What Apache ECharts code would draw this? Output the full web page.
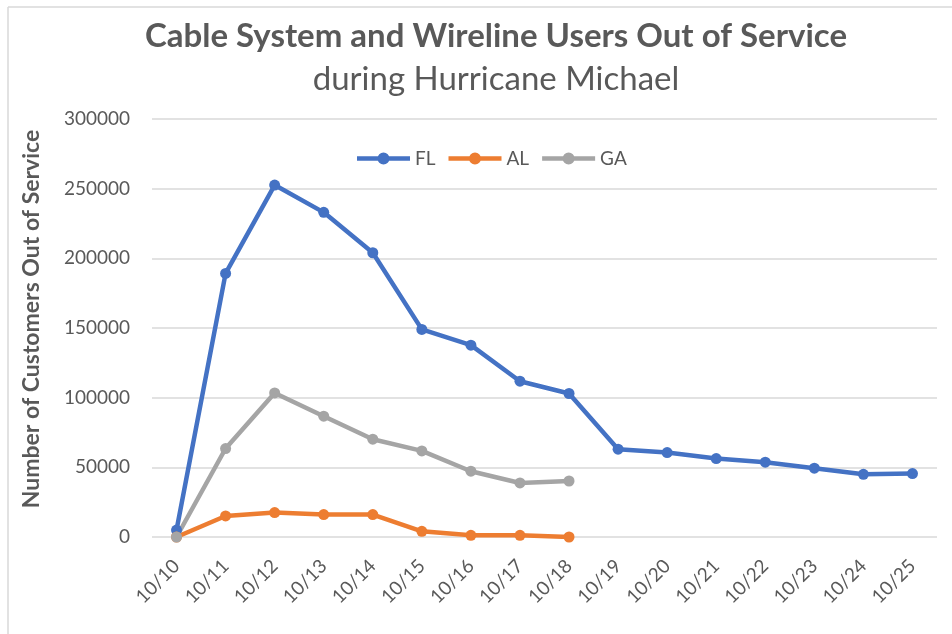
<!DOCTYPE html>
<html>
<head>
<meta charset="utf-8">
<title>Cable System and Wireline Users Out of Service</title>
<script src="https://cdn.jsdelivr.net/npm/echarts@6/dist/echarts.min.js"></script>
<style>
  html, body { margin: 0; padding: 0; background: #fff; }
  #chart { width: 952px; height: 634px; }
</style>
</head>
<body>
<div id="chart"></div>
<script>
  // dates along the x axis
  const dates = ['10/10', '10/11', '10/12', '10/13', '10/14', '10/15', '10/16', '10/17',
    '10/18', '10/19', '10/20', '10/21', '10/22', '10/23', '10/24', '10/25']

  // customers out of service
  const flValues = [5000, 189200, 252600, 233000, 204000, 149000, 137700, 111800,
    103000, 63000, 60600, 56300, 53700, 49400, 45000, 45500]
  const alValues = [0, 15100, 17500, 16100, 16100, 4100, 1200, 1200, 0]
  const gaValues = [0, 63500, 103400, 86700, 70200, 61800, 47200, 38800, 40200]

  const yTicks = [0, 50000, 100000, 150000, 200000, 250000, 300000]

  const font = 'Lato, "Open Sans", sans-serif'
  const textColor = '#595959'

  // legend marker: thick line with a dot in the middle
  const legendIcon = 'path://M0,3.8h53v4.4H0z M20.5,6a6,6 0 1,1 12,0a6,6 0 1,1 -12,0z'

  const chart = echarts.init(document.getElementById('chart'))

  const makeSeries = (name, data, color) => ({
    name,
    type: 'line',
    data,
    symbol: 'circle',
    symbolSize: 11,
    lineStyle: { width: 4.5, color },
    itemStyle: { color },
    emphasis: { disabled: true }
  })

  const option = {
    backgroundColor: '#fff',
    animation: false,
    title: [
      {
        text: 'Cable System and Wireline Users Out of Service',
        left: 491,
        top: 15,
        textAlign: 'center',
        textStyle: { fontFamily: font, fontSize: 33, fontWeight: 'bold', color: textColor }
      },
      {
        text: 'during Hurricane Michael',
        left: 491,
        top: 58,
        textAlign: 'center',
        textStyle: { fontFamily: font, fontSize: 33, fontWeight: 'normal', color: textColor }
      }
    ],
    legend: {
      top: 144,
      left: 352,
      itemWidth: 53,
      itemHeight: 12,
      itemGap: 13,
      icon: legendIcon,
      textStyle: { fontFamily: font, fontSize: 19, color: textColor },
      data: ['FL', 'AL', 'GA']
    },
    grid: {
      left: 152,
      right: 15,
      top: 119,
      bottom: 97
    },
    xAxis: {
      type: 'category',
      data: dates,
      boundaryGap: true,
      axisLine: { show: false },
      axisTick: { show: false },
      axisLabel: {
        rotate: 45,
        margin: 26,
        fontFamily: font,
        fontSize: 19,
        color: textColor
      }
    },
    yAxis: {
      type: 'value',
      min: yTicks[0],
      max: yTicks[yTicks.length - 1],
      interval: 50000,
      name: 'Number of Customers Out of Service',
      nameLocation: 'middle',
      nameGap: 109,
      nameTextStyle: {
        fontFamily: font,
        fontSize: 23,
        fontWeight: 'bold',
        color: textColor,
        padding: [0, 0, 0, 18]
      },
      axisLine: { show: false },
      axisTick: { show: false },
      axisLabel: {
        margin: 22,
        fontFamily: font,
        fontSize: 19,
        color: textColor,
        formatter: (v) => String(v)
      },
      splitLine: { lineStyle: { color: '#d9d9d9', width: 1.5 } }
    },
    graphic: [
      { type: 'line', shape: { x1: 8, y1: 7, x2: 952, y2: 7 }, style: { stroke: '#d9d9d9', lineWidth: 1.5 } },
      { type: 'line', shape: { x1: 8, y1: 7, x2: 8, y2: 634 }, style: { stroke: '#d9d9d9', lineWidth: 1.5 } }
    ],
    series: [
      makeSeries('FL', flValues, '#4472c4'),
      makeSeries('AL', alValues, '#ed7d31'),
      makeSeries('GA', gaValues, '#a5a5a5')
    ]
  }

  chart.setOption(option)
</script>
</body>
</html>
